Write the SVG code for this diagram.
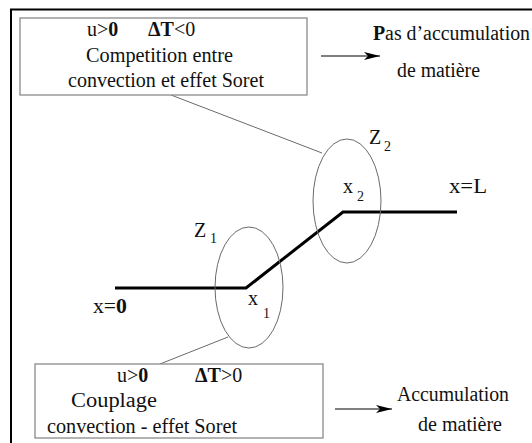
<svg xmlns="http://www.w3.org/2000/svg" width="532" height="443" viewBox="0 0 532 443">
<style>
text{fill:#111;font-size:20px}
.b{font-weight:bold}
.sub{font-size:14px}
.box{fill:#fff;stroke:#8a8a8a;stroke-width:1.3}
.conn{stroke:#6a6a6a;stroke-width:1;fill:none}
.ell{fill:none;stroke:#6a6a6a;stroke-width:1}
.path{fill:none;stroke:#000;stroke-width:3;stroke-linejoin:miter}
.arr{stroke:#555;stroke-width:1.3;fill:none}
</style>
<defs>
<marker id="ah" viewBox="0 0 16 8" refX="16" refY="4" markerWidth="16" markerHeight="8" markerUnits="userSpaceOnUse" orient="auto">
<path d="M0,0 L16,4 L0,8 L4,4 Z" fill="#000"/>
</marker>
</defs>
<rect width="532" height="443" fill="#fff"/>
<path d="M11,443 V9.5 H532" fill="none" stroke="#000" stroke-width="2"/>

<g id="connectors">
<line class="conn" x1="171" y1="95" x2="322" y2="153"/>
<line class="conn" x1="160" y1="364" x2="228" y2="337"/>
<line class="arr" x1="321" y1="56" x2="380" y2="56" marker-end="url(#ah)"/>
<line class="arr" x1="335" y1="409" x2="392" y2="409" marker-end="url(#ah)"/>
<polyline class="path" points="115,288 246,288 343,212 457,212"/>
</g>

<g font-family="'Liberation Serif', 'DejaVu Serif', serif">
<g id="box-top">
<rect class="box" x="20" y="18" width="287" height="77"/>
<text x="87" y="36">u&gt;<tspan class="b">0</tspan></text>
<text x="148" y="36"><tspan class="b">ΔT</tspan>&lt;0</text>
<text x="86" y="62" textLength="147" lengthAdjust="spacingAndGlyphs">Competition entre</text>
<text x="68" y="87" textLength="196" lengthAdjust="spacingAndGlyphs">convection et effet Soret</text>
</g>

<g id="result-top">
<text x="373" y="40" textLength="157" lengthAdjust="spacingAndGlyphs"><tspan class="b">P</tspan>as d’accumulation</text>
<text x="397" y="77" textLength="83" lengthAdjust="spacingAndGlyphs">de matière</text>
</g>

<g id="zone-2">
<ellipse class="ell" cx="347" cy="201" rx="34" ry="62"/>
<text x="369" y="144">Z</text>
<text class="sub" x="384" y="151">2</text>
<text x="343" y="193">x</text>
<text class="sub" x="357" y="201">2</text>
</g>

<g id="zone-1">
<ellipse class="ell" cx="249" cy="287.5" rx="34" ry="60.5"/>
<text x="194" y="237">Z</text>
<text class="sub" x="210" y="243">1</text>
<text x="248" y="305">x</text>
<text class="sub" x="263" y="318">1</text>
</g>

<g id="label-x0">
<text x="93" y="313" textLength="34" lengthAdjust="spacingAndGlyphs">x=<tspan class="b">0</tspan></text>
</g>
<g id="label-xL">
<text x="449" y="193" textLength="38" lengthAdjust="spacingAndGlyphs">x=L</text>
</g>

<g id="box-bottom">
<rect class="box" x="35" y="364" width="288" height="74"/>
<text x="117" y="382">u&gt;<tspan class="b">0</tspan></text>
<text x="195" y="382"><tspan class="b">ΔT</tspan>&gt;0</text>
<text x="71" y="407" textLength="86" lengthAdjust="spacingAndGlyphs">Couplage</text>
<text x="47" y="433" textLength="190" lengthAdjust="spacingAndGlyphs">convection - effet Soret</text>
</g>

<g id="result-bottom">
<text x="397" y="401" textLength="112" lengthAdjust="spacingAndGlyphs">Accumulation</text>
<text x="418" y="431" textLength="84" lengthAdjust="spacingAndGlyphs">de matière</text>
</g>
</g>
</svg>
